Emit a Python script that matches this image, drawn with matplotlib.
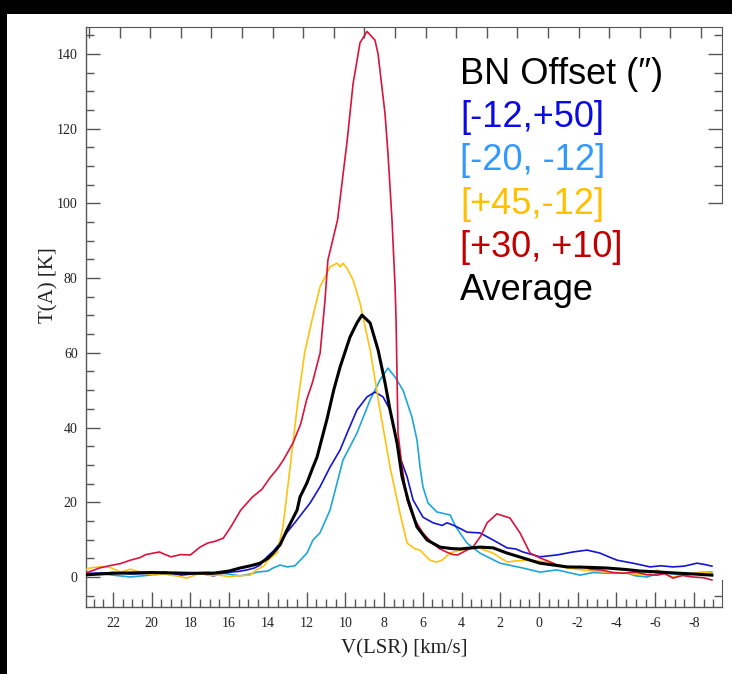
import numpy as np
import matplotlib
matplotlib.use("Agg")
import matplotlib.pyplot as plt
from matplotlib.patches import Rectangle
from matplotlib.ticker import MultipleLocator, FixedLocator, NullFormatter

plt.rcParams['axes.unicode_minus'] = False

# ---------------- data (velocity km/s, antenna temperature K) ----------------
red_v = [23.6, 23.0, 22.7, 22.2, 21.6, 21.1, 20.6, 20.3, 19.9, 19.6, 19.3, 19.0, 18.5, 18.0, 17.5,
         17.1, 16.7, 16.3, 15.9, 15.4, 14.8, 14.3, 13.9, 13.5, 13.2, 12.7, 12.3, 12.0, 11.7, 11.3,
         11.05, 10.9, 10.4, 9.9, 9.6, 9.24, 8.88, 8.47, 8.31, 7.95, 7.8, 7.59, 7.43, 7.38, 7.28,
         7.07, 6.81, 6.5, 6.0, 5.5, 5.11, 4.7, 4.44, 4.2, 3.72, 3.41, 3.0, 2.68, 2.17, 1.5, 0.98,
         0.46, -0.05, -0.5, -0.93, -1.6, -2.2, -2.63, -3.3, -3.8, -4.34, -5.0, -5.6, -6.09, -6.5,
         -6.92, -7.4, -7.95, -8.5, -8.93]
red_t = [0.8, 1.8, 2.4, 3.0, 3.6, 4.5, 5.2, 6.0, 6.4, 6.7, 6.0, 5.4, 6.0, 5.9, 8.0,
         9.1, 9.6, 10.4, 13.5, 17.9, 21.4, 23.5, 26.5, 29.0, 31.3, 35.9, 41.0, 47.4, 52.0, 60.0,
         74.0, 84.8, 95.6, 117.0, 132.0, 143.0, 146.0, 143.7, 140.0, 124.0, 113.5, 95.6, 77.6, 68.8, 38.5,
         29.5, 20.6, 16.0, 11.8, 9.0, 7.5, 6.5, 6.0, 5.9, 7.2, 8.0, 11.0, 14.5, 16.9, 15.8, 11.8,
         6.4, 5.1, 4.2, 3.2, 2.6, 2.8, 2.1, 1.8, 1.2, 1.0, 1.3, 0.6, 0.5, 0.9,
         -0.3, 0.4, 0.0, -0.2, -0.8]

yellow_v = [23.7, 23.2, 22.7, 22.2, 21.6, 21.1, 20.6, 19.9, 19.4, 19.05, 18.6, 18.2, 17.5, 17.0,
            16.5, 16.0, 15.6, 14.9, 14.6, 14.2, 14.0, 13.75, 13.53, 13.22, 12.85, 12.44, 12.1,
            11.72, 11.31, 10.79, 10.43, 10.25, 10.12, 9.9, 9.6, 9.24, 8.72, 8.21, 7.69, 7.18,
            6.81, 6.4, 6.14, 5.63, 5.3, 5.0, 4.6, 4.08, 3.6, 3.2, 2.8, 2.37, 1.65, 1.2, 0.62, 0.0,
            -0.57, -1.0, -1.45, -2.4, -3.51, -4.5, -5.58, -6.09, -6.5, -6.92, -7.6, -8.1, -8.47, -8.93]
yellow_t = [1.3, 2.4, 2.7, 2.7, 1.3, 2.1, 1.3, 0.5, 0.9, 0.5, 0.2, -0.3, 1.0, 0.4,
            0.5, 0.1, 0.3, 0.5, 1.9, 3.0, 4.5, 5.5, 6.4, 13.4, 29.4, 47.4, 60.0,
            68.8, 77.6, 83.0, 84.0, 83.0, 84.0, 82.5, 79.5, 73.3, 60.8, 44.7, 29.4, 17.1,
            9.1, 7.5, 7.2, 4.5, 4.0, 4.5, 6.4, 7.2, 7.6, 8.0, 7.2, 6.4, 4.0, 4.3, 4.5, 4.2,
            4.0, 3.2, 2.4, 1.8, 1.3, 1.0, 0.5, 1.9, 0.8, 0.0, 0.8, 1.0, 1.3, 1.0]

blue_v = [23.7, 22.7, 22.0, 21.0, 20.1, 19.3, 18.5, 17.5, 16.8, 16.4, 15.95, 15.5, 15.07, 14.7,
          14.4, 14.04, 13.7, 13.37, 13.0, 12.49, 11.82, 11.31, 10.79, 10.27, 9.91, 9.4, 8.88,
          8.47, 8.05, 7.69, 7.43, 7.18, 6.81, 6.5, 5.99, 5.47, 5.0, 4.75, 4.44, 4.0, 3.72, 3.05,
          2.37, 1.65, 1.2, 0.83, -0.05, -0.93, -1.76, -2.48, -3.15, -3.6, -4.03, -4.85, -5.3,
          -5.73, -6.3, -6.92, -7.5, -8.16, -8.6, -8.93]
blue_t = [1.0, 1.0, 1.2, 0.8, 1.0, 1.3, 0.5, 1.0, 0.3, 0.9, 1.3, 1.5, 1.9, 2.4,
          3.2, 5.4, 7.0, 9.1, 12.0, 15.3, 19.8, 24.1, 29.4, 34.0, 38.5, 44.7, 48.2,
          49.5, 48.2, 44.7, 38.5, 32.1, 26.8, 20.6, 16.0, 14.5, 13.8, 14.5, 13.9, 12.8, 12.0, 11.8,
          9.9, 7.8, 7.5, 6.7, 5.4, 5.9, 6.7, 7.2, 6.4, 5.4, 4.5, 3.7, 3.2,
          2.7, 3.0, 2.7, 2.9, 3.7, 3.3, 2.9]

cyan_v = [23.7, 22.7, 22.0, 21.1, 20.1, 19.05, 18.0, 17.14, 16.3, 15.44, 14.9, 14.56, 14.0,
          13.73, 13.37, 13.0, 12.6, 11.98, 11.67, 11.31, 10.79, 10.12, 9.4, 8.72, 8.21, 7.8,
          7.43, 7.02, 6.56, 6.3, 6.14, 5.99, 5.73, 5.27, 4.59, 4.3, 4.08, 3.72, 3.05, 2.01, 0.83,
          -0.05, -0.93, -2.12, -2.8, -3.51, -4.54, -5.0, -5.58, -6.1, -6.61, -7.64, -8.3, -8.93]
cyan_t = [0.5, 1.0, 0.5, 0.0, 0.5, 1.0, 1.0, 1.3, 1.0, 0.3, 0.8, 1.3, 1.6,
          2.4, 3.2, 2.7, 3.0, 6.4, 9.9, 11.8, 17.9, 31.3, 38.5, 47.4, 52.7, 55.9,
          53.5, 50.0, 42.8, 36.7, 29.4, 24.1, 19.8, 17.4, 16.6, 13.5, 11.8, 9.1, 6.4, 3.7, 2.4,
          1.3, 1.9, 0.5, 1.2, 1.0, 1.0, 0.3, 0.0, 0.9, 1.0, 0.5, 1.2, 1.3]

avg_v = [23.7, 22.0, 20.0, 18.0, 16.83, 16.0, 15.44, 14.9, 14.4, 14.0, 13.73, 13.37, 13.01, 12.49,
         12.34, 11.98, 11.67, 11.46, 10.94, 10.6, 10.27, 9.76, 9.4, 9.14, 8.72, 8.31, 7.95, 7.69,
         7.33, 7.07, 6.76, 6.3, 5.78, 5.11, 4.5, 4.08, 3.05, 2.37, 1.65, 0.83, -0.05, -1.45, -2.5,
         -3.51, -4.5, -5.21, -6.0, -6.92, -8.0, -8.93]
avg_t = [0.5, 1.0, 1.2, 1.0, 1.0, 1.6, 2.4, 3.0, 3.7, 5.0, 6.4, 8.6, 12.6, 17.9,
         21.4, 25.2, 29.4, 32.1, 42.4, 50.0, 56.2, 64.2, 68.0, 70.1, 68.0, 60.8, 52.0, 44.7,
         35.9, 26.8, 20.6, 13.4, 9.9, 8.0, 7.6, 7.5, 8.0, 7.8, 6.4, 5.1, 3.7, 2.7, 2.6,
         2.4, 2.0, 1.6, 1.4, 1.1, 0.8, 0.5]

legend_title = "BN Offset (\u2033)"
legend_labels = ["[-12,+50]", "[-20, -12]", "[+45,-12]", "[+30, +10]", "Average"]
legend_colors = ["#0a0ae6", "#3399ff", "#ffc000", "#c00000", "#000000"]

# ---------------- figure ----------------
W, H = 732, 674
fig = plt.figure(figsize=(W / 100, H / 100), dpi=100, facecolor="white")
# black frame bands of the screenshot
fig.patches.append(Rectangle((0, 1 - 14 / H), 1, 14 / H, transform=fig.transFigure,
                             facecolor="black", edgecolor="none", zorder=0))
fig.patches.append(Rectangle((0, 0), 7 / W, 1, transform=fig.transFigure,
                             facecolor="black", edgecolor="none", zorder=0))

ax = fig.add_axes([86 / W, (H - 607) / H, 636 / W, 580 / H])

lw = 1.2
ax.plot(cyan_v, cyan_t, color="#1fa6d8", lw=lw, zorder=2)
ax.plot(blue_v, blue_t, color="#1515d0", lw=lw, zorder=3)
ax.plot(yellow_v, yellow_t, color="#ffc20e", lw=lw, zorder=3)
ax.plot(red_v, red_t, color="#d8143c", lw=lw, zorder=4)
ax.plot(avg_v, avg_t, color="black", lw=2.2, zorder=5, solid_joinstyle="round")

ax.set_xlim(23.39, -9.45)
ax.set_ylim(-8.03, 147.2)

serif = "Liberation Serif"
spine_col = "#555555"
for s in ax.spines.values():
    s.set_color(spine_col)
    s.set_linewidth(1.0)
ax.spines["right"].set_visible(False)
ax.spines["top"].set_visible(False)

ax.xaxis.set_major_locator(MultipleLocator(2))
ax.xaxis.set_minor_locator(MultipleLocator(0.5))
ax.yaxis.set_major_locator(MultipleLocator(20))
ax.yaxis.set_minor_locator(MultipleLocator(5))
ax.tick_params(which="both", direction="in", color=spine_col, top=False, right=False,
               labelsize=10, labelcolor="#222222")
ax.tick_params(axis="y", which="major", length=10, width=1.0, pad=6)
ax.tick_params(axis="y", which="minor", length=6, width=1.0)
ax.tick_params(axis="x", which="major", length=11, width=1.0, pad=7)
ax.tick_params(axis="x", which="minor", length=6, width=1.0)
for lab in ax.get_xticklabels() + ax.get_yticklabels():
    lab.set_family(serif)

# top axis (unlabelled secondary scale)
top = ax.secondary_xaxis("top")
top.xaxis.set_major_locator(FixedLocator(23.23 - 1.58 * np.arange(21)))
top.xaxis.set_major_formatter(NullFormatter())
top.tick_params(direction="in", length=8, width=1.0, color=spine_col)
top.spines["top"].set_color(spine_col)

# right axis survives only partially in the reference screenshot
r_top = ax.secondary_yaxis("right")
r_top.spines["right"].set_bounds(100, 147.2)
r_top.spines["right"].set_color(spine_col)
r_top.yaxis.set_major_locator(FixedLocator([100, 120, 140]))
r_top.yaxis.set_minor_locator(FixedLocator([105, 110, 115, 125, 130, 135, 145]))
r_top.yaxis.set_major_formatter(NullFormatter())
r_top.tick_params(which="both", direction="in", color=spine_col, width=1.0)
r_top.tick_params(which="major", length=10)
r_top.tick_params(which="minor", length=6)

r_bot = ax.secondary_yaxis("right")
r_bot.spines["right"].set_bounds(-8.03, -0.8)
r_bot.spines["right"].set_color(spine_col)
r_bot.yaxis.set_major_locator(FixedLocator([-5]))
r_bot.yaxis.set_major_formatter(NullFormatter())
r_bot.tick_params(direction="in", color=spine_col, width=1.0, length=6)

ax.set_xlabel("V(LSR) [km/s]", family=serif, fontsize=15, color="#222222", labelpad=7)
ax.set_ylabel("T(A) [K]", family=serif, fontsize=15, color="#222222")
ax.yaxis.set_label_coords(-0.043, 1 - (285 - 27) / 580)

# legend-like text block
sans = ["Liberation Sans", "DejaVu Sans"]
baselines = [84, 127, 170, 214, 257, 300]
texts = [legend_title] + legend_labels
colors = ["#000000"] + legend_colors
for t, c, yb in zip(texts, colors, baselines):
    fig.text(460 / W, 1 - yb / H, t, color=c, fontsize=26, family=sans,
             ha="left", va="baseline")

fig.savefig("out.png", dpi=100, facecolor="white")
